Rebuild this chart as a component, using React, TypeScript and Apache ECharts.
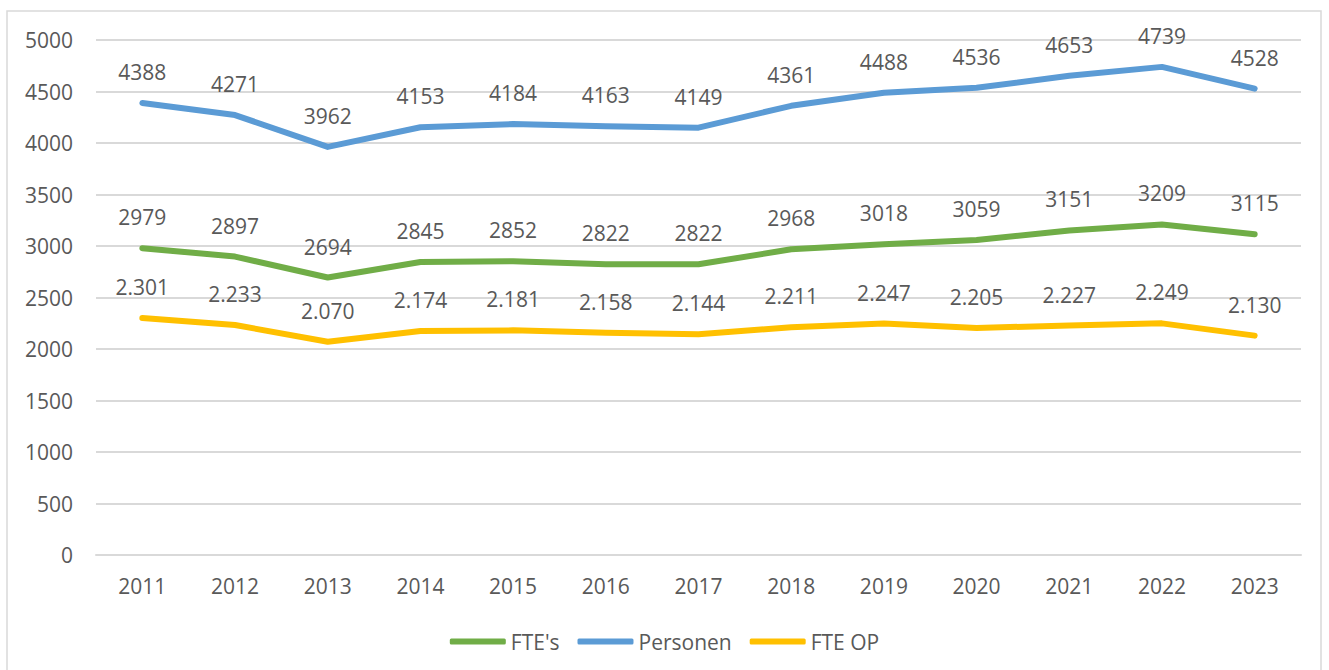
import React, { useEffect, useRef } from "react";
import * as echarts from "echarts";

const years = ["2011", "2012", "2013", "2014", "2015", "2016", "2017", "2018", "2019", "2020", "2021", "2022", "2023"];
const fteValues = [2979, 2897, 2694, 2845, 2852, 2822, 2822, 2968, 3018, 3059, 3151, 3209, 3115];
const personenValues = [4388, 4271, 3962, 4153, 4184, 4163, 4149, 4361, 4488, 4536, 4653, 4739, 4528];
const fteOpValues = [2301, 2233, 2070, 2174, 2181, 2158, 2144, 2211, 2247, 2205, 2227, 2249, 2130];
const yTicks = { min: 0, max: 5000, interval: 500 };

const FONT = "'Open Sans', 'Liberation Sans', sans-serif";
const TEXT = "#595959";
const FS = 21;

export default function App() {
  const ref = useRef<HTMLDivElement>(null);
  useEffect(() => {
    if (!ref.current) return;
    const chart = echarts.init(ref.current, undefined, { renderer: "svg" });
    const mkSeries = (name: string, data: number[], color: string, fmt?: (v: number) => string) => ({
      name,
      type: "line",
      data,
      symbol: "circle",
      symbolSize: 1,
      lineStyle: { color, width: 6, cap: "round", join: "round" },
      itemStyle: { color },
      label: {
        show: true,
        position: "top",
        distance: 20,
        color: TEXT,
        fontFamily: FONT,
        fontSize: FS,
        formatter: (p: any) => (fmt ? fmt(p.value) : String(p.value)),
      },
      emphasis: { disabled: true },
    });
    chart.setOption({
      animation: false,
      textStyle: { fontFamily: FONT },
      graphic: [
        {
          type: "rect",
          shape: { x: 7, y: 11, width: 1314, height: 680 },
          style: { fill: "none", stroke: "#d9d9d9", lineWidth: 1.5 },
          silent: true,
        },
      ],
      grid: { left: 96, right: 28, top: 40, bottom: 115, containLabel: false },
      legend: {
        left: "center",
        top: 626,
        itemWidth: 56,
        itemHeight: 6,
        itemGap: 18,
        icon: "roundRect",
        textStyle: { color: TEXT, fontSize: FS, fontFamily: FONT },
        data: ["FTE's", "Personen", "FTE OP"],
      },
      xAxis: {
        type: "category",
        data: years,
        boundaryGap: true,
        axisLine: { show: true, lineStyle: { color: "#d9d9d9", width: 2 } },
        axisTick: { show: false },
        axisLabel: { color: TEXT, fontSize: FS, fontFamily: FONT, margin: 20 },
      },
      yAxis: {
        type: "value",
        min: yTicks.min,
        max: yTicks.max,
        interval: yTicks.interval,
        axisLine: { show: false },
        axisTick: { show: false },
        splitLine: { lineStyle: { color: "#d9d9d9", width: 2 } },
        axisLabel: {
          color: TEXT,
          fontSize: FS,
          fontFamily: FONT,
          margin: 23,
          formatter: (v: number) => String(v),
        },
      },
      series: [
        mkSeries("FTE's", fteValues, "#70AD47"),
        mkSeries("Personen", personenValues, "#5B9BD5"),
        mkSeries("FTE OP", fteOpValues, "#FFC000", (v) => {
          const s = String(v);
          return s.slice(0, s.length - 3) + "." + s.slice(s.length - 3);
        }),
      ],
    });
    return () => chart.dispose();
  }, []);
  return (
    <div
      ref={ref}
      style={{ position: "absolute", left: 0, top: 0, width: 1329, height: 670, background: "#fff" }}
    />
  );
}
